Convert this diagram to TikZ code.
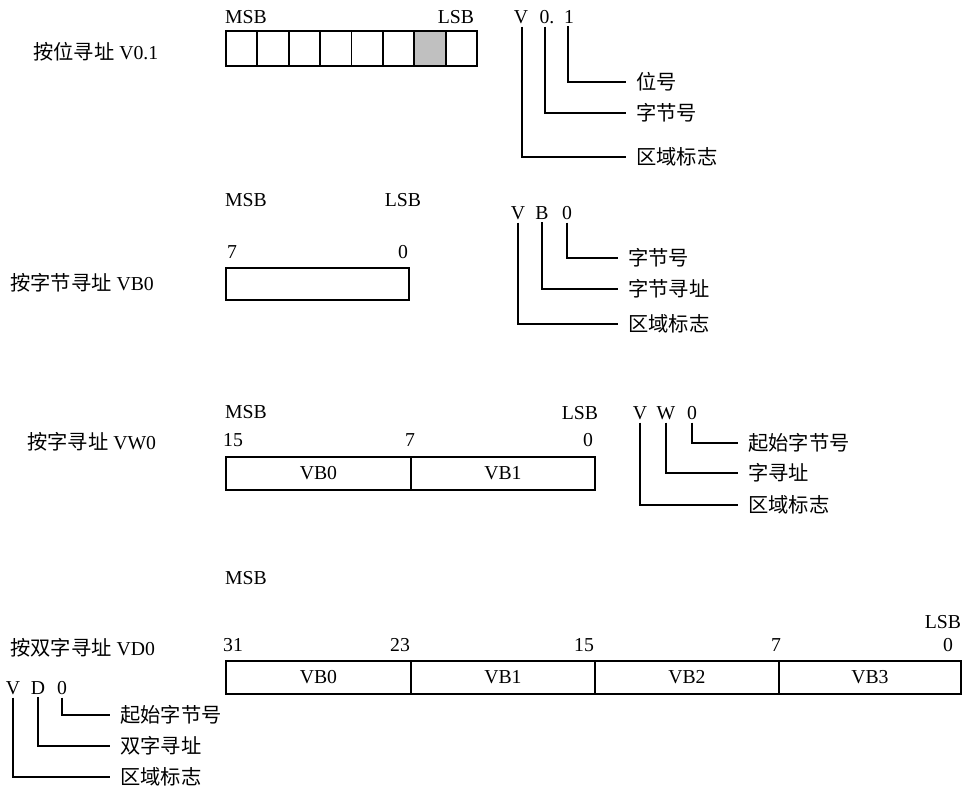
\documentclass[tikz,border=0pt]{standalone}
\usepackage{fontspec}
\setmainfont{Liberation Serif}
\newfontfamily\cjk{Noto Sans CJK SC}
\begin{document}
\begin{tikzpicture}[x=0.75pt,y=-0.75pt,
  every node/.style={font=\fontsize{14.8}{17}\selectfont, inner sep=0pt},
  cell/.style={draw, line width=1.4pt, anchor=north west, minimum height=#1*0.75pt},
  keyline/.style={line width=0.8pt},
  keylab/.style={anchor=west, inner xsep=7.5pt, font=\fontsize{15.2}{17}\selectfont\cjk},
  title/.style={anchor=west}
]
\useasboundingbox (0,0) rectangle (969,789);

% ===== Section 1: bit addressing =====
\node[title] (t1) at (33,52) {{\cjk\fontsize{15.2}{17}\selectfont 按位寻址} V0.1};
\node (msb1) at (246,17) {MSB};
\node (lsb1) at (456,17) {LSB};
\foreach \i in {0,...,7}{
  \pgfmathsetmacro{\xx}{225+\i*31.375}
  \ifnum\i=6
    \node[cell=35, fill={rgb,255:red,192;green,192;blue,192}, minimum width=23.53pt] (b1c\i) at (\xx,30) {};
  \else
    \node[cell=35, minimum width=23.53pt] (b1c\i) at (\xx,30) {};
  \fi
}
\node (k1v) at (521,17) {V};
\node (k1a) at (547,17) {0.};
\node (k1b) at (569,17) {1};
\node[keylab] (k1l1) at (626,82) {位号};
\node[keylab] (k1l2) at (626,113) {字节号};
\node[keylab] (k1l3) at (626,157) {区域标志};
\draw[keyline] ([yshift=-2pt]k1b.south -| 568,0) |- (k1l1.west);
\draw[keyline] ([yshift=-2pt]k1a.south -| 545,0) |- (k1l2.west);
\draw[keyline] ([yshift=-2pt]k1v.south -| 522,0) |- (k1l3.west);

% ===== Section 2: byte addressing =====
\node[title] (t2) at (10,283) {{\cjk\fontsize{15.2}{17}\selectfont 按字节寻址} VB0};
\node (msb2) at (246,200) {MSB};
\node (lsb2) at (403,200) {LSB};
\node (n2a) at (232,252) {7};
\node (n2b) at (403,252) {0};
\node[cell=32, minimum width=137.25pt] (b2) at (225,267) {};
\node (k2v) at (518,213) {V};
\node (k2a) at (542,213) {B};
\node (k2b) at (567,213) {0};
\node[keylab] (k2l1) at (618,258) {字节号};
\node[keylab] (k2l2) at (618,289) {字节寻址};
\node[keylab] (k2l3) at (618,324) {区域标志};
\draw[keyline] ([yshift=-2pt]k2b.south) |- (k2l1.west);
\draw[keyline] ([yshift=-2pt]k2a.south) |- (k2l2.west);
\draw[keyline] ([yshift=-2pt]k2v.south) |- (k2l3.west);

% ===== Section 3: word addressing =====
\node[title] (t3) at (27,442) {{\cjk\fontsize{15.2}{17}\selectfont 按字寻址} VW0};
\node (msb3) at (246,412) {MSB};
\node (lsb3) at (580,413) {LSB};
\node (n3a) at (233,440) {15};
\node (n3b) at (410,440) {7};
\node (n3c) at (588,440) {0};
\node[cell=33, minimum width=138.75pt] (b3a) at (225,456) {VB0};
\node[cell=33, minimum width=138pt] (b3b) at (410,456) {VB1};
\node (k3v) at (640,413) {V};
\node (k3a) at (666,413) {W};
\node (k3b) at (692,413) {0};
\node[keylab] (k3l1) at (738,443) {起始字节号};
\node[keylab] (k3l2) at (738,473) {字寻址};
\node[keylab] (k3l3) at (738,505) {区域标志};
\draw[keyline] ([yshift=-2pt]k3b.south) |- (k3l1.west);
\draw[keyline] ([yshift=-2pt]k3a.south) |- (k3l2.west);
\draw[keyline] ([yshift=-2pt]k3v.south) |- (k3l3.west);

% ===== Section 4: double word addressing =====
\node[title] (t4) at (10,648) {{\cjk\fontsize{15.2}{17}\selectfont 按双字寻址} VD0};
\node (msb4) at (246,578) {MSB};
\node (lsb4) at (943,622) {LSB};
\node (n4a) at (233,645) {31};
\node (n4b) at (400,645) {23};
\node (n4c) at (584,645) {15};
\node (n4d) at (776,645) {7};
\node (n4e) at (948,645) {0};
\node[cell=33, minimum width=138.75pt] (b4a) at (225,660) {VB0};
\node[cell=33, minimum width=138pt] (b4b) at (410,660) {VB1};
\node[cell=33, minimum width=138pt] (b4c) at (594,660) {VB2};
\node[cell=33, minimum width=136.5pt] (b4d) at (778,660) {VB3};
\node (k4v) at (13,688) {V};
\node (k4a) at (38,688) {D};
\node (k4b) at (62,688) {0};
\node[keylab] (k4l1) at (110,715) {起始字节号};
\node[keylab] (k4l2) at (110,746) {双字寻址};
\node[keylab] (k4l3) at (110,777) {区域标志};
\draw[keyline] ([yshift=-2pt]k4b.south) |- (k4l1.west);
\draw[keyline] ([yshift=-2pt]k4a.south) |- (k4l2.west);
\draw[keyline] ([yshift=-2pt]k4v.south) |- (k4l3.west);
\end{tikzpicture}
\end{document}
